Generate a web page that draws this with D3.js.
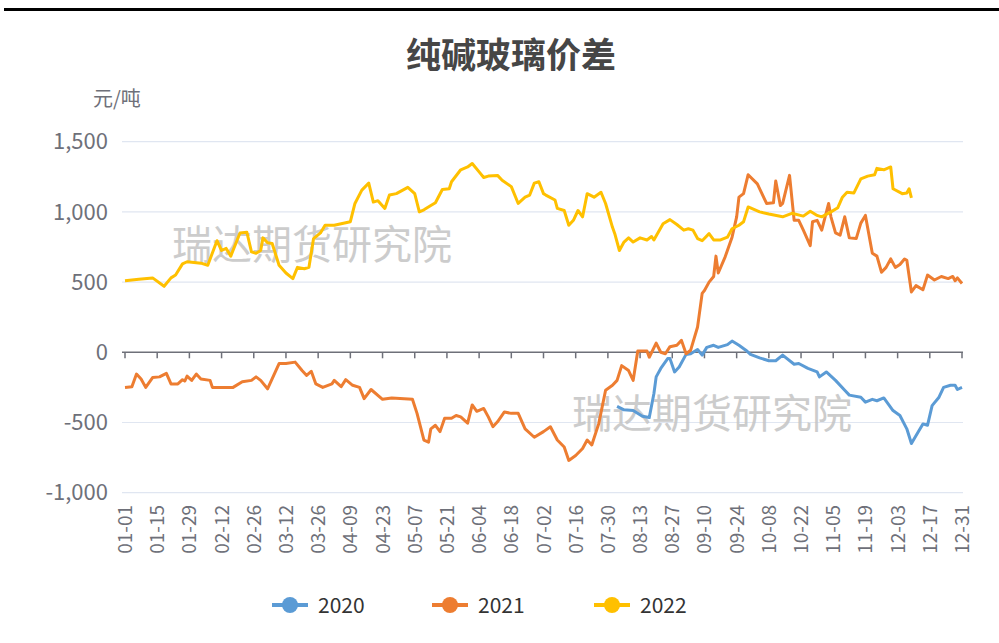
<!DOCTYPE html>
<html>
<head>
<meta charset="utf-8">
<script src="https://cdn.jsdelivr.net/npm/d3@7"></script>
<style>
  body { margin: 0; background: #fff; }
  svg { display: block; font-family: "Noto Sans CJK SC", "Noto Sans", sans-serif; }
</style>
</head>
<body>
<div id="chart"></div>
<script>
// day-of-year index (0 = 01-01) and spread value
var days2020 = [214,217,221,225,228,230,231,233,236,237,239,241,244,246,249,251,253,256,258,262,264,267,270,272,276,280,283,286,291,293,297,301,302,305,309,313,315,320,322,325,327,330,334,337,340,342,345,347,349,351,354,356,359,361,362,364];
var vals2020 = [-385,-410,-415,-455,-465,-295,-175,-115,-45,-45,-140,-105,-15,-10,20,-20,35,50,35,55,80,50,15,-15,-40,-60,-60,-20,-85,-80,-115,-140,-175,-140,-200,-270,-305,-320,-355,-335,-345,-325,-415,-450,-545,-650,-565,-510,-520,-380,-320,-250,-235,-235,-265,-250];

var days2021 = [0,3,5,7,9,12,15,18,20,23,25,26,27,29,31,33,37,38,47,51,55,57,59,62,67,70,74,77,79,81,83,86,90,91,94,96,99,102,104,107,112,116,125,127,130,132,133,135,137,139,142,144,146,149,151,153,156,158,160,162,165,168,171,174,178,182,185,188,191,193,196,199,201,203,206,209,212,214,216,219,221,223,227,228,231,233,235,237,240,242,244,246,249,251,252,254,256,257,258,261,264,266,267,269,271,275,279,282,283,285,286,289,291,293,295,298,299,301,303,306,307,309,311,313,315,318,320,322,325,327,329,331,333,335,337,339,340,342,344,347,349,352,355,358,360,361,362,364];
var vals2021 = [-250,-245,-155,-190,-250,-180,-175,-150,-225,-225,-195,-205,-170,-200,-155,-190,-200,-250,-250,-210,-200,-175,-200,-260,-80,-80,-70,-130,-165,-135,-225,-250,-225,-200,-245,-195,-235,-250,-330,-265,-335,-325,-335,-435,-625,-640,-545,-520,-565,-470,-470,-450,-460,-505,-375,-420,-400,-460,-530,-495,-425,-435,-435,-545,-605,-565,-530,-625,-675,-770,-735,-685,-625,-660,-510,-270,-235,-200,-95,-130,-200,10,10,-35,65,0,-10,40,50,85,-10,15,180,420,440,500,540,685,565,680,820,965,1105,1130,1265,1200,1060,1065,1220,1045,1060,1260,940,940,870,760,930,940,870,1060,965,850,835,965,815,810,920,975,705,685,570,605,665,605,625,665,655,430,475,445,550,515,540,525,540,510,530,490];

var days2022 = [0,3,6,12,17,20,22,25,27,33,36,40,42,44,46,50,53,55,57,59,60,62,64,67,70,73,75,78,80,82,85,87,91,98,100,103,106,108,110,113,115,118,123,126,128,130,133,135,138,141,142,146,149,151,154,156,158,162,164,168,171,174,176,178,180,182,183,187,188,191,193,195,197,199,201,204,207,209,212,213,215,217,219,221,224,227,229,230,234,237,240,243,245,247,249,251,254,256,259,262,264,267,269,271,276,280,286,290,295,298,301,303,307,310,312,314,317,320,323,326,327,330,333,334,338,340,341,342];
var vals2022 = [510,515,520,530,470,530,550,630,645,635,620,795,725,740,685,850,855,715,705,725,815,780,775,620,565,525,605,595,605,810,850,905,905,930,1060,1155,1205,1070,1080,1025,1120,1130,1175,1130,1000,1015,1045,1065,1160,1165,1215,1300,1320,1345,1285,1245,1255,1260,1225,1180,1060,1105,1120,1205,1215,1130,1120,1085,1025,1010,905,940,1010,965,1130,1105,1140,1060,890,845,725,785,815,785,815,800,825,800,915,945,910,870,880,870,810,795,845,800,800,820,880,905,930,1035,1000,985,965,990,970,1005,975,965,1000,1030,1105,1140,1135,1235,1255,1265,1310,1300,1320,1165,1130,1135,1165,1100];

var yTicks = [-1000, -500, 0, 500, 1000, 1500];
var seriesNames = ["2020", "2021", "2022"];
var seriesColors = ["#5B9BD5", "#ED7D31", "#FFC000"];

// 365 daily category labels, one tick label every 14 days
var dates = d3.timeDay.range(new Date(2021, 0, 1), new Date(2022, 0, 1)).map(d3.timeFormat("%m-%d"));
var labelDates = dates.filter(function(d, i){ return i % 14 === 0; });

var width = 999, height = 643;
var svg = d3.select("#chart").append("svg")
    .attr("width", width)
    .attr("height", height);

// top rule
svg.append("rect").attr("x", 4).attr("y", 8).attr("width", width - 4).attr("height", 3).attr("fill", "#000");

var x = d3.scalePoint().domain(dates).range([125, 962]);
var y = d3.scaleLinear().domain([-1000, 1500]).range([492.7, 141.7]);

// grid lines
svg.append("g").selectAll("line")
    .data(yTicks.filter(function(v){ return v !== 0; }))
    .enter().append("line")
    .attr("x1", 122).attr("x2", 963)
    .attr("y1", function(d){ return y(d); })
    .attr("y2", function(d){ return y(d); })
    .attr("stroke", "#E0E6F1")
    .attr("stroke-width", 1.2);

// y labels (plain hyphen for negatives, as in the source)
var fmt = d3.format(",");
svg.append("g").selectAll("text")
    .data(yTicks)
    .enter().append("text")
    .attr("x", 108)
    .attr("y", function(d){ return y(d); })
    .attr("dy", "0.35em")
    .attr("text-anchor", "end")
    .attr("fill", "#6E7079")
    .style("font-size", "22px")
    .text(function(d){ return fmt(d).replace("\u2212", "-"); });

// unit
svg.append("text")
    .attr("x", 93).attr("y", 106)
    .attr("fill", "#6E7079")
    .style("font-size", "20px")
    .text("元/吨");

// title
svg.append("text")
    .attr("x", 511).attr("y", 68)
    .attr("text-anchor", "middle")
    .attr("fill", "#464646")
    .style("font-size", "35px")
    .style("font-weight", "bold")
    .text("纯碱玻璃价差");

// watermarks
[[172, 259], [572, 428]].forEach(function(p){
  svg.append("text")
      .attr("x", p[0]).attr("y", p[1])
      .attr("fill", "#c4c4c4")
      .attr("opacity", 0.85)
      .style("font-size", "40px")
      .text("瑞达期货研究院");
});

// x axis on zero
var xAxis = svg.append("g").attr("transform", "translate(0," + y(0) + ")");
xAxis.append("line")
    .attr("x1", 122).attr("x2", 963)
    .attr("stroke", "#6E7079").attr("stroke-width", 1.5);
xAxis.selectAll(".tick")
    .data(labelDates)
    .enter().append("line")
    .attr("x1", function(d){ return x(d); })
    .attr("x2", function(d){ return x(d); })
    .attr("y1", 0).attr("y2", 6)
    .attr("stroke", "#6E7079").attr("stroke-width", 1.5);

// x labels at the bottom, rotated
svg.append("g").selectAll("text")
    .data(labelDates)
    .enter().append("text")
    .attr("transform", function(d){ return "translate(" + (x(d) + 7) + ",505) rotate(-90)"; })
    .attr("text-anchor", "end")
    .attr("fill", "#6E7079")
    .style("font-size", "19px")
    .text(function(d){ return d; });

// lines
var allDays = [days2020, days2021, days2022];
var allVals = [vals2020, vals2021, vals2022];
var line = d3.line()
    .x(function(d){ return x(dates[d[0]]); })
    .y(function(d){ return y(d[1]); });

allDays.forEach(function(ds, i){
  var pts = ds.map(function(d, j){ return [d, allVals[i][j]]; });
  svg.append("path")
      .datum(pts)
      .attr("fill", "none")
      .attr("stroke", seriesColors[i])
      .attr("stroke-width", 3)
      .attr("stroke-linejoin", "round")
      .attr("d", line);
});

// legend
var legendX = [272, 432, 594];
seriesNames.forEach(function(name, i){
  var g = svg.append("g").attr("transform", "translate(" + legendX[i] + ",605)");
  g.append("line").attr("x1", 0).attr("x2", 36)
      .attr("stroke", seriesColors[i]).attr("stroke-width", 4);
  g.append("circle").attr("cx", 18).attr("r", 8)
      .attr("fill", seriesColors[i]);
  g.append("text").attr("x", 46).attr("dy", "0.36em")
      .attr("fill", "#333")
      .style("font-size", "21px")
      .text(name);
});
</script>
</body>
</html>
